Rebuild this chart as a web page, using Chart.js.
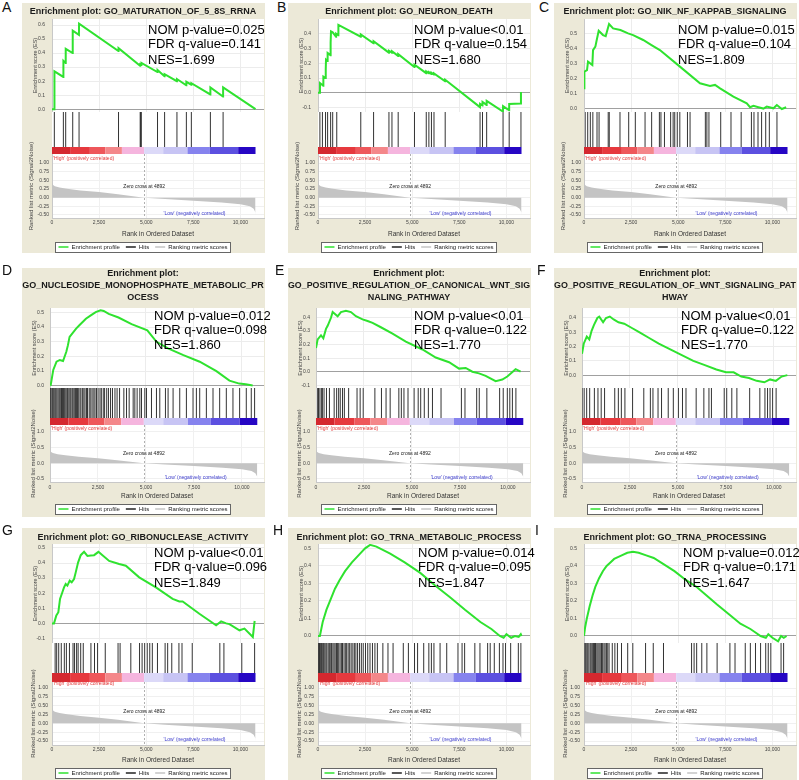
<!DOCTYPE html>
<html>
<head>
<meta charset="utf-8">
<script src="https://cdn.jsdelivr.net/npm/chart.js@4.4.1/dist/chart.umd.min.js"></script>
<style>
  body { margin: 0; width: 799px; height: 780px; overflow: hidden; position: relative; background: #fff;
         font-family: "Liberation Sans", Arial, sans-serif; }
  .bg { position: absolute; background: #ece9d8; }
  .plotbg { position: absolute; background: #fff; }
  .lab { position: absolute; font-size: 14px; line-height: 14px; color: #111; }
  canvas { position: absolute; }
</style>
</head>
<body>
<script>
const FONT = '"Liberation Sans", Arial, sans-serif';
Chart.defaults.font.family = FONT;

// shared ranked list
const rankTicks = [0, 2500, 5000, 7500, 10000];
const zeroCross = 4892;
const metricRanks  = [0, 40, 150, 400, 800, 1500, 2500, 3500, 4892, 6000, 7500, 9000, 10000, 10500, 10700, 10790, 10800];
const metricValues = [0.42, 0.37, 0.33, 0.29, 0.26, 0.21, 0.16, 0.10, 0.0, -0.04, -0.09, -0.14, -0.19, -0.25, -0.32, -0.42, -0.5];
const metricTicksFine = [-0.5, -0.25, 0, 0.25, 0.5, 0.75, 1];
const metricTicksCoarse = [-0.5, 0, 0.5, 1];
const heatEdges  = [0, 960, 2010, 2830, 3710, 4890, 5900, 7190, 8380, 9880, 10800];
const heatColors = ['#d4282f', '#e6393e', '#ee575b', '#f4878a', '#f5b5de', '#dcd9f8', '#c7c4f4', '#8683ee', '#5c50e0', '#2606c4'];

// A
const titleA = 'Enrichment plot: GO_MATURATION_OF_5_8S_RRNA';
const statsA = ['NOM p-value=0.025', 'FDR q-value=0.141', 'NES=1.699'];
const esTicksA = [0, 0.1, 0.2, 0.3, 0.4, 0.5, 0.6];
const esA = [[0,0],[122,0],[130,0.27],[600,0.23],[605,0.345],[722,0.33],[728,0.43],[1095,0.40],[1100,0.56],[1430,0.53],[1436,0.61],
  [3525,0.415],[3530,0.435],[4675,0.31],[4680,0.32],[4740,0.315],[4745,0.33],[5595,0.265],[5600,0.28],[5970,0.235],[5975,0.25],
  [6625,0.20],[6630,0.215],[7125,0.17],[7130,0.195],[7390,0.175],[7395,0.185],[8400,0.105],[8405,0.155],[9075,0.09],[9080,0.155],[10800,0.0]];
const hitsA = [124, 603, 727, 1100, 1436, 3530, 4680, 4700, 4740, 5600, 5975, 6630, 7130, 7395, 8405, 9080];

// B
const titleB = 'Enrichment plot: GO_NEURON_DEATH';
const statsB = ['NOM p-value<0.01', 'FDR q-value=0.154', 'NES=1.680'];
const esTicksB = [-0.1, 0, 0.1, 0.2, 0.3, 0.4];
const esB = [[0,0],[100,0],[105,0.066],[280,0.048],[285,0.11],[398,0.1],[402,0.16],[420,0.16],[425,0.224],[505,0.215],[510,0.27],
  [665,0.255],[670,0.34],[690,0.416],[780,0.41],[958,0.38],[962,0.40],[1075,0.39],[1082,0.46],[2265,0.38],[2270,0.396],
  [2945,0.335],[2950,0.35],[3760,0.272],[3765,0.285],[3920,0.272],[3925,0.282],[4250,0.25],[4255,0.262],[5115,0.175],[5120,0.19],
  [5740,0.133],[5745,0.145],[5880,0.132],[5884,0.14],[6015,0.128],[6020,0.136],[6150,0.124],[6155,0.132],[6745,0.078],[6750,0.088],
  [8595,-0.097],[8600,-0.075],[8725,-0.086],[8730,-0.062],[8945,-0.082],[8950,-0.055],[9815,-0.127],[9820,-0.09],
  [10140,-0.118],[10145,-0.075],[10765,-0.072],[10770,0.005]];
const hitsB = [101, 234, 400, 510, 670, 780, 995, 2270, 2950, 3765, 3925, 4255, 5120, 5745, 5884, 6020, 6155, 6750, 8600, 8730, 8950, 9820, 10145, 10770];

// C
const titleC = 'Enrichment plot: GO_NIK_NF_KAPPAB_SIGNALING';
const statsC = ['NOM p-value=0.015', 'FDR q-value=0.104', 'NES=1.809'];
const esTicksC = [0, 0.1, 0.2, 0.3, 0.4, 0.5];
const esC = [[0,0.134],[20,0.246],[160,0.257],[213,0.313],[443,0.29],[479,0.391],[603,0.414],[656,0.447],[780,0.521],[1010,0.492],
  [1152,0.485],[1330,0.566],[1543,0.537],[1933,0.526],[2340,0.503],[2607,0.492],[3140,0.459],[3582,0.425],[4026,0.391],[5090,0.28],
  [6155,0.168],[6687,0.15],[6953,0.157],[7220,0.134],[7927,0.078],[8637,0.033],[8813,0.007],[8990,0.016],[9257,0.007],[9523,-0.002],
  [9700,0.011],[10055,0.0],[10232,0.022],[10498,-0.005],[10728,0.007]];
const hitsC = [63, 197, 335, 470, 690, 800, 1285, 1340, 1910, 2372, 2723, 3240, 3590, 4000, 4083, 4270, 4597, 4730, 4815, 4950,
  5085, 5490, 5628, 6440, 6520, 6630, 7255, 7800, 8340, 8884, 9020, 9234, 9425, 9643, 9835, 10240];

// D
const titleD = ['Enrichment plot:', 'GO_NUCLEOSIDE_MONOPHOSPHATE_METABOLIC_PR', 'OCESS'];
const statsD = ['NOM p-value=0.012', 'FDR q-value=0.098', 'NES=1.860'];
const esTicksD = [0, 0.1, 0.2, 0.3, 0.4, 0.5];
const esD = [[30,0],[170,0.108],[340,0.164],[510,0.176],[680,0.169],[850,0.232],[935,0.277],[1020,0.333],[1156,0.356],[1360,0.39],
  [1530,0.412],[1870,0.457],[2125,0.48],[2380,0.502],[2635,0.515],[2800,0.51],[3060,0.49],[3570,0.465],[4250,0.42],[5070,0.378],
  [5550,0.3],[6150,0.255],[6950,0.209],[7800,0.164],[8670,0.1],[9350,0.035],[9860,0.015],[10200,0.01],[10560,0.002]];
const hitsD = [20, 55, 110, 145, 195, 250, 300, 355, 415, 470, 515, 565, 600, 655, 700, 745, 790, 845, 905, 940, 995, 1050, 1095,
  1160, 1205, 1265, 1325, 1385, 1430, 1495, 1565, 1615, 1700, 1765, 1825, 1905, 1955, 2045, 2125, 2195, 2285, 2345, 2425, 2505,
  2605, 2675, 2775, 2845, 2955, 3045, 3155, 3255, 3385, 3495, 3625, 3848, 3987, 4125, 4333, 4420, 4540, 4680, 4767, 4940, 5027,
  5287, 5547, 5720, 6015, 6153, 6413, 6760, 7107, 7453, 7627, 7800, 8147, 8493, 8840, 9187, 9533, 9880, 10227, 10487, 10660];

// E
const titleE = ['Enrichment plot:', 'GO_POSITIVE_REGULATION_OF_CANONICAL_WNT_SIG', 'NALING_PATHWAY'];
const statsE = ['NOM p-value<0.01', 'FDR q-value=0.122', 'NES=1.770'];
const esTicksE = [-0.1, 0, 0.1, 0.2, 0.3, 0.4];
const esE = [[0,0.175],[87,0.239],[260,0.269],[381,0.246],[520,0.316],[607,0.339],[780,0.398],[867,0.44],[1127,0.409],[1300,0.44],
  [1560,0.449],[1820,0.44],[2080,0.409],[2427,0.386],[2687,0.374],[2947,0.36],[3380,0.328],[3987,0.281],[4680,0.222],[5547,0.164],
  [6240,0.105],[6933,0.07],[7453,0.023],[7800,0.028],[8147,0.0],[8493,-0.012],[8840,-0.03],[9360,-0.07],[9707,-0.058],
  [9967,-0.035],[10400,0.019],[10660,0.0]];
const hitsE = [69, 130, 203, 280, 333, 420, 546, 700, 946, 1076, 1180, 1264, 1380, 1477, 1700, 2138, 2300, 2460, 3068, 3411, 3650,
  3864, 4316, 4446, 4583, 4794, 5112, 5325, 5455, 5642, 5855, 6068, 6515, 7576, 7762, 8372, 8507, 8902, 9568, 9755, 9968, 10098,
  10233, 10415];

// F
const titleF = ['Enrichment plot:', 'GO_POSITIVE_REGULATION_OF_WNT_SIGNALING_PAT', 'HWAY'];
const statsF = ['NOM p-value<0.01', 'FDR q-value=0.122', 'NES=1.770'];
const esTicksF = [0, 0.1, 0.2, 0.3, 0.4];
const esF = [[0,0.15],[90,0.22],[250,0.27],[380,0.25],[500,0.31],[620,0.35],[800,0.40],[900,0.41],[1100,0.37],[1250,0.40],
  [1450,0.41],[1650,0.39],[1900,0.37],[2200,0.36],[2600,0.33],[3000,0.30],[3500,0.26],[4000,0.22],[4600,0.18],[5200,0.14],
  [5800,0.10],[6400,0.07],[7000,0.04],[7500,0.02],[7900,0.02],[8300,-0.01],[8700,-0.02],[9100,-0.04],[9500,-0.05],[9800,-0.03],
  [10100,-0.04],[10400,-0.01],[10700,0.0]];
const hitsF = [10, 113, 244, 400, 645, 832, 1000, 1176, 1706, 1894, 2050, 2236, 2636, 3219, 3562, 3697, 3962, 4144, 4493, 4758,
  5023, 5236, 5418, 5948, 6349, 6614, 6744, 7410, 7540, 7805, 8070, 8736, 9266, 9532, 9667, 9797, 9932, 10114];

// G
const titleG = 'Enrichment plot: GO_RIBONUCLEASE_ACTIVITY';
const statsG = ['NOM p-value<0.01', 'FDR q-value=0.096', 'NES=1.849'];
const esTicksG = [-0.1, 0, 0.1, 0.2, 0.3, 0.4, 0.5];
const esG = [[0,0],[106,0],[230,0.053],[337,0.074],[426,0.162],[550,0.206],[638,0.239],[727,0.261],[816,0.25],[940,0.283],
  [1046,0.272],[1170,0.294],[1259,0.338],[1383,0.403],[1525,0.452],[1702,0.474],[1880,0.447],[2057,0.45],[2234,0.452],
  [2465,0.474],[2678,0.452],[3032,0.414],[3564,0.393],[3919,0.382],[4628,0.305],[5515,0.239],[6402,0.162],[6756,0.145],
  [6933,0.145],[7820,0.064],[8709,-0.013],[8975,0.013],[9241,0.0],[9416,-0.005],[9948,-0.046],[10214,-0.035],[10657,-0.09],
  [10746,0.009],[10800,0.007]];
const hitsG = [166, 248, 356, 492, 654, 763, 926, 1116, 1197, 1306, 1387, 1523, 1659, 2066, 2256, 2419, 2826, 3505, 3614, 4183,
  4645, 4781, 4917, 5053, 5188, 5324, 5596, 6003, 6138, 6356, 6736, 6899, 7442, 8906, 9123, 10071, 10752];

// H
const titleH = 'Enrichment plot: GO_TRNA_METABOLIC_PROCESS';
const statsH = ['NOM p-value=0.014', 'FDR q-value=0.095', 'NES=1.847'];
const esTicksH = [0, 0.1, 0.2, 0.3, 0.4, 0.5];
const esH = [[0,0],[100,0],[250,0.08],[450,0.15],[638,0.2],[900,0.27],[1150,0.32],[1436,0.37],[1800,0.42],[2234,0.47],[2500,0.5],
  [2766,0.52],[3100,0.51],[3830,0.47],[4600,0.42],[5426,0.36],[6200,0.29],[7022,0.22],[7800,0.15],[8618,0.08],[9200,0.04],
  [9650,0.0],[9850,-0.01],[10000,0.01],[10250,-0.01],[10450,0.0],[10650,-0.005],[10760,0.01],[10800,0]];
const hitsH = [30, 80, 140, 190, 250, 300, 360, 420, 470, 540, 600, 650, 720, 790, 850, 910, 980, 1040, 1100, 1170, 1240, 1300,
  1380, 1450, 1520, 1600, 1680, 1760, 1850, 1930, 2010, 2100, 2200, 2300, 2400, 2520, 2640, 2760, 2890, 3020, 3150, 3442, 3713,
  3984, 4526, 4797, 5122, 5285, 5610, 5882, 6017, 6153, 6478, 6831, 7428, 7645, 7781, 8323, 8595, 9002, 9138, 9355, 9626, 9817,
  9953, 10224, 10631, 10766];

// I
const titleI = 'Enrichment plot: GO_TRNA_PROCESSING';
const statsI = ['NOM p-value=0.012', 'FDR q-value=0.171', 'NES=1.647'];
const esTicksI = [0, 0.1, 0.2, 0.3, 0.4, 0.5];
const esI = [[0,0],[60,0.05],[150,0.1],[300,0.17],[450,0.23],[600,0.28],[800,0.33],[1000,0.37],[1200,0.4],[1400,0.42],[1600,0.44],
  [1800,0.45],[2000,0.46],[2300,0.475],[2600,0.48],[2900,0.475],[3300,0.46],[3700,0.445],[4220,0.41],[4800,0.37],[5400,0.32],
  [5980,0.28],[6520,0.23],[7060,0.18],[7740,0.12],[8300,0.07],[8830,0.04],[9100,0.02],[9370,0.0],[9650,-0.01],[9780,0.01],
  [10000,-0.01],[10300,-0.03],[10460,0.0],[10600,-0.01],[10750,0]];
const hitsI = [40, 90, 150, 200, 260, 330, 380, 440, 500, 560, 610, 680, 740, 800, 860, 930, 990, 1060, 1120, 1190, 1260, 1330,
  1500, 1638, 1773, 1990, 2319, 2590, 3267, 3675, 4218, 5708, 5843, 5979, 6250, 6521, 7064, 7743, 8014, 8557, 8828, 9100, 9371,
  9643, 9778, 9914, 10457, 10593];

// layout of the three rows of panels (page pixels)
const rows = [
  { bgTop: 3, bgBot: 253, esTop: 19, esBot: 112, hitsBot: 147, heatBot: 154, metBot: 218, legendY: 247,
    axisW: 30, xMax: 11250, metMin: -0.587, metMax: 1.26, metTicks: metricTicksFine, dec: 2,
    titleLH: 10.8, titlePadTop: 3.6, statY: [30, 44.7, 60], esTitlePad: 9.7, metTitlePad: 6, esTickPad: 7, metTickPad: 3, xTickPad: 2 },
  { bgTop: 268, bgBot: 517, esTop: 308, esBot: 388, hitsBot: 418, heatBot: 425, metBot: 482, legendY: 509,
    axisW: 28, xMax: 11150, metMin: -0.6, metMax: 1.224, metTicks: metricTicksCoarse, dec: 1,
    titleLH: 12, titlePadTop: 0, statY: [316, 330, 345.7], esTitlePad: 9, metTitlePad: 7.4, esTickPad: 6, metTickPad: 6, xTickPad: 3 },
  { bgTop: 528, bgBot: 780, esTop: 544, esBot: 643, hitsBot: 673, heatBot: 682, metBot: 745, legendY: 773,
    axisW: 30, xMax: 11250, metMin: -0.613, metMax: 1.17, metTicks: metricTicksFine, dec: 2,
    titleLH: 10.8, titlePadTop: 4.6, statY: [553.3, 567.7, 583.3], esTitlePad: 10.4, metTitlePad: 7.7, esTickPad: 7, metTickPad: 4, xTickPad: 1.5 }
];
const colX = [0, 266, 532];

const panels = [
  { letter: 'A', lx: 2,   col: 0, row: 0, title: titleA, stats: statsA, es: esA, hits: hitsA, esTicks: esTicksA, yMin: -0.02,  yMax: 0.643, statX: 148 },
  { letter: 'B', lx: 277, col: 1, row: 0, title: titleB, stats: statsB, es: esB, hits: hitsB, esTicks: esTicksB, yMin: -0.13,  yMax: 0.50,  statX: 148 },
  { letter: 'C', lx: 539, col: 2, row: 0, title: titleC, stats: statsC, es: esC, hits: hitsC, esTicks: esTicksC, yMin: -0.025, yMax: 0.60,  statX: 146 },
  { letter: 'D', lx: 2,   col: 0, row: 1, title: titleD, stats: statsD, es: esD, hits: hitsD, esTicks: esTicksD, yMin: -0.015, yMax: 0.53,  statX: 154 },
  { letter: 'E', lx: 275, col: 1, row: 1, title: titleE, stats: statsE, es: esE, hits: hitsE, esTicks: esTicksE, yMin: -0.12,  yMax: 0.47,  statX: 148 },
  { letter: 'F', lx: 537, col: 2, row: 1, title: titleF, stats: statsF, es: esF, hits: hitsF, esTicks: esTicksF, yMin: -0.09,  yMax: 0.47,  statX: 149 },
  { letter: 'G', lx: 2,   col: 0, row: 2, title: titleG, stats: statsG, es: esG, hits: hitsG, esTicks: esTicksG, yMin: -0.13,  yMax: 0.526, statX: 154 },
  { letter: 'H', lx: 273, col: 1, row: 2, title: titleH, stats: statsH, es: esH, hits: hitsH, esTicks: esTicksH, yMin: -0.04,  yMax: 0.525, statX: 152 },
  { letter: 'I', lx: 535, col: 2, row: 2, title: titleI, stats: statsI, es: esI, hits: hitsI, esTicks: esTicksI, yMin: -0.04,  yMax: 0.525, statX: 151 }
];

const GREEN = '#2fe22f';
const CW = 250;      // canvas width, plot right edge = col + 264
const PAD_R = 8;

function mk(x, y, w, h) {
  const c = document.createElement('canvas');
  c.width = w; c.height = h;
  c.style.left = x + 'px'; c.style.top = y + 'px';
  c.style.width = w + 'px'; c.style.height = h + 'px';
  document.body.appendChild(c);
  return c;
}
function box(cls, x, y, w, h, text) {
  const d = document.createElement('div');
  d.className = cls;
  d.style.left = x + 'px'; d.style.top = y + 'px';
  if (w != null) { d.style.width = w + 'px'; d.style.height = h + 'px'; }
  if (text) d.textContent = text;
  document.body.appendChild(d);
  return d;
}
const setTicks = vals => s => { s.ticks = vals.map(v => ({ value: v })); };
const noPadY = w => s => { s.width = w; s.paddingTop = 0; s.paddingBottom = 0; };

const statsPlugin = {
  id: 'stats',
  afterDatasetsDraw(chart, args, o) {
    const ctx = chart.ctx;
    ctx.save();
    ctx.font = '13px ' + FONT;
    ctx.fillStyle = '#000';
    ctx.textBaseline = 'middle';
    ctx.textAlign = 'left';
    o.lines.forEach((t, i) => ctx.fillText(t, o.x, o.ys[i]));
    ctx.restore();
  }
};

const metricNotes = {
  id: 'metricNotes',
  beforeDraw(chart) {
    // white legend frame
    const hb = chart.legend.legendHitBoxes;
    if (!hb || !hb.length) return;
    const l = Math.min(...hb.map(h => h.left)) - 3;
    const r = Math.max(...hb.map(h => h.left + h.width)) + 3;
    const t = hb[0].top - 2, b = hb[0].top + hb[0].height + 2;
    const ctx = chart.ctx;
    ctx.save();
    ctx.fillStyle = '#fff';
    ctx.fillRect(l, t, r - l, b - t);
    ctx.strokeStyle = '#666';
    ctx.lineWidth = 1;
    ctx.strokeRect(Math.round(l) + 0.5, Math.round(t) + 0.5, Math.round(r - l), Math.round(b - t));
    ctx.restore();
  },
  beforeDatasetsDraw(chart) {
    const { ctx, chartArea: a, scales: { x } } = chart;
    const px = Math.round(x.getPixelForValue(zeroCross)) + 0.5;
    ctx.save();
    ctx.strokeStyle = '#b0b0b0';
    ctx.setLineDash([2, 2]);
    ctx.lineWidth = 1;
    ctx.beginPath(); ctx.moveTo(px, a.top); ctx.lineTo(px, a.bottom); ctx.stroke();
    ctx.restore();
  },
  afterDatasetsDraw(chart) {
    const { ctx, scales: { x, y } } = chart;
    ctx.save();
    ctx.font = '5px ' + FONT;
    ctx.textBaseline = 'middle';
    ctx.fillStyle = '#e23a3a';
    ctx.textAlign = 'left';
    ctx.fillText("'High' (positively correlated)", x.getPixelForValue(0) + 1, y.getPixelForValue(1.12));
    ctx.fillStyle = '#222';
    ctx.textAlign = 'center';
    ctx.fillText('Zero cross at ' + zeroCross, x.getPixelForValue(zeroCross), y.getPixelForValue(0.32));
    ctx.fillStyle = '#3c3ccc';
    ctx.textAlign = 'right';
    ctx.fillText("'Low' (negatively correlated)", x.getPixelForValue(9200), y.getPixelForValue(-0.47));
    ctx.restore();
  }
};

function drawPanel(p) {
  const r = rows[p.row];
  const cx = colX[p.col];
  const left = cx + 22;

  box('bg', left, r.bgTop, 243, r.bgBot - r.bgTop);
  box('plotbg', cx + 22 + r.axisW, r.esTop, 242 - r.axisW, r.metBot - r.esTop);
  box('lab', p.lx, r.bgTop - 3 - (p.row === 0 ? 0 : 2), null, null, p.letter);

  const nLines = Array.isArray(p.title) ? p.title.length : 1;
  const titlePadBot = (r.esTop - r.bgTop) - nLines * r.titleLH - r.titlePadTop;

  // enrichment score curve
  new Chart(mk(left, r.bgTop, CW, r.esBot - r.bgTop), {
    type: 'line',
    data: { datasets: [{ data: p.es.map(([x, y]) => ({ x, y })), borderColor: GREEN, borderWidth: 2, pointRadius: 0 }] },
    options: {
      responsive: false, animation: false, events: [],
      layout: { autoPadding: false, padding: { left: 0, right: PAD_R, top: 0, bottom: 0 } },
      plugins: {
        legend: { display: false }, tooltip: { enabled: false },
        title: { display: true, text: p.title, color: '#1a1a1a',
                 font: { size: 9, weight: 'bold', lineHeight: r.titleLH / 9 },
                 padding: { top: r.titlePadTop, bottom: titlePadBot } },
        stats: { lines: p.stats, x: p.statX - 22, ys: r.statY.map(v => v - r.bgTop) }
      },
      scales: {
        x: { type: 'linear', min: 0, max: r.xMax, afterBuildTicks: setTicks(rankTicks),
             ticks: { display: false }, grid: { color: '#ececec', drawTicks: false }, border: { color: '#c8c8c8' },
             afterFit: s => { s.height = 0; s.paddingLeft = 0; s.paddingRight = 0; } },
        y: { min: p.yMin, max: p.yMax, afterBuildTicks: setTicks(p.esTicks),
             ticks: { font: { size: 5 }, color: '#444', padding: r.esTickPad, callback: v => v.toFixed(1) },
             grid: { drawTicks: false, color: c => (c.tick && c.tick.value === 0) ? '#a0a0a0' : '#ececec' },
             border: { color: '#c8c8c8' },
             title: { display: true, text: 'Enrichment score (ES)', font: { size: 5.5 }, color: '#444',
                      padding: { top: r.esTitlePad, bottom: 0 } },
             afterFit: noPadY(r.axisW) }
      }
    },
    plugins: [statsPlugin]
  });

  // hits + correlation heat bar
  const hH = r.heatBot - r.esBot;
  const hitsH = r.hitsBot - r.esBot;
  const heatH = r.heatBot - r.hitsBot;
  new Chart(mk(left, r.esBot, CW, hH), {
    type: 'line',
    data: { datasets: [
      { data: p.hits.map(x => ({ x, y: 1 - hitsH / 2 / hH })), showLine: false,
        pointStyle: 'line', pointRotation: 90, pointRadius: hitsH / 2,
        pointBorderColor: '#333', pointBorderWidth: 1 },
      { data: heatEdges.map(x => ({ x, y: heatH / 2 / hH })), borderWidth: heatH, pointRadius: 0,
        borderCapStyle: 'butt', segment: { borderColor: c => heatColors[c.p0DataIndex] } }
    ] },
    options: {
      responsive: false, animation: false, events: [],
      layout: { autoPadding: false, padding: { left: r.axisW, right: PAD_R, top: 0, bottom: 0 } },
      plugins: { legend: { display: false }, tooltip: { enabled: false } },
      scales: {
        x: { type: 'linear', min: 0, max: r.xMax, display: false },
        y: { min: 0, max: 1, display: false }
      }
    }
  });

  // ranked list metric
  const legendPad = 6;
  new Chart(mk(left, r.esBot, CW, r.legendY + 13 - r.esBot), {
    type: 'line',
    data: { datasets: [
      { label: 'Enrichment profile', data: [], borderColor: GREEN, backgroundColor: GREEN },
      { label: 'Hits', data: [], borderColor: '#222', backgroundColor: '#222' },
      { label: 'Ranking metric scores', data: metricRanks.map((x, i) => ({ x, y: metricValues[i] })),
        fill: 'origin', backgroundColor: '#c4c4c4', borderColor: '#c4c4c4', borderWidth: 0, pointRadius: 0 }
    ] },
    options: {
      responsive: false, animation: false, events: [],
      layout: { autoPadding: false, padding: { left: 0, right: PAD_R, top: hH, bottom: 0 } },
      plugins: {
        tooltip: { enabled: false },
        legend: { position: 'bottom',
          labels: { font: { size: 6 }, color: '#222', usePointStyle: true, pointStyle: 'line', pointStyleWidth: 10,
                    padding: legendPad,
                    generateLabels: ch => Chart.defaults.plugins.legend.labels.generateLabels(ch)
                      .map(l => Object.assign(l, { lineWidth: 1.5, pointStyle: 'line' })) } }
      },
      scales: {
        x: { type: 'linear', min: 0, max: r.xMax, afterBuildTicks: setTicks(rankTicks),
             ticks: { font: { size: 5 }, color: '#444', padding: r.xTickPad, maxRotation: 0,
                      callback: v => v.toLocaleString('en-US') },
             grid: { color: '#f0f0f0', drawTicks: false }, border: { color: '#c8c8c8' },
             title: { display: true, text: 'Rank in Ordered Dataset', font: { size: 6.5 }, color: '#333',
                      padding: { top: 0, bottom: 0 } },
             afterFit: s => { s.height = r.legendY - 3 - legendPad - r.metBot; s.paddingLeft = 0; s.paddingRight = 0; } },
        y: { min: r.metMin, max: r.metMax, afterBuildTicks: setTicks(r.metTicks),
             ticks: { font: { size: 5 }, color: '#444', padding: r.metTickPad, callback: v => v.toFixed(r.dec) },
             grid: { drawTicks: false, color: '#f0f0f0' }, border: { color: '#c8c8c8' },
             title: { display: true, text: 'Ranked list metric (Signal2Noise)', font: { size: 6 }, color: '#444',
                      padding: { top: r.metTitlePad, bottom: 0 } },
             afterFit: noPadY(r.axisW) }
      }
    },
    plugins: [metricNotes]
  });
}

panels.forEach(drawPanel);
</script>
</body>
</html>
